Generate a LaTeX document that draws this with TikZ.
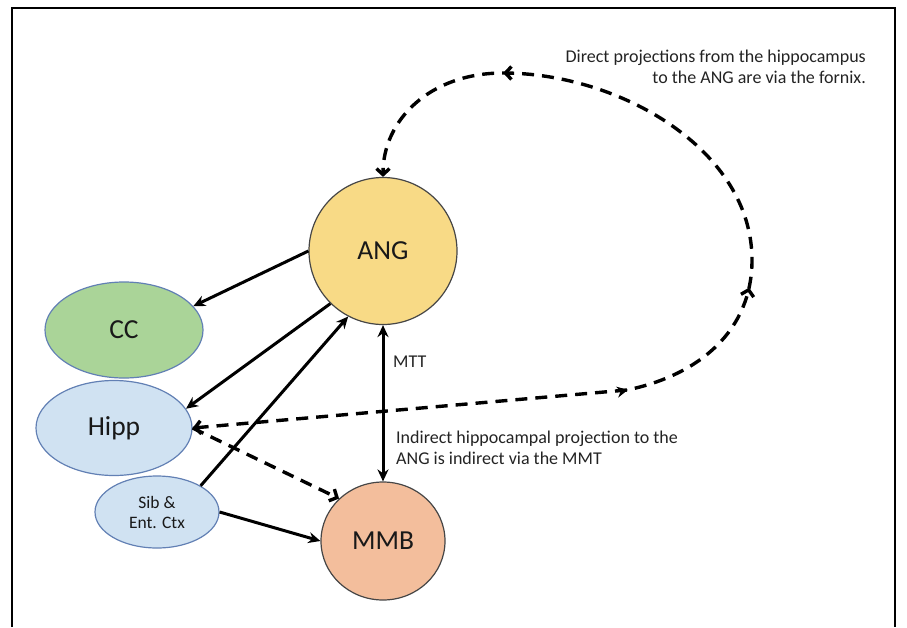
\documentclass[tikz,border=0pt]{standalone}
\usepackage{fontspec}
\setmainfont{Carlito}
\usepackage{xcolor}
\usepackage{tikz}
\usetikzlibrary{shapes.geometric,arrows.meta,decorations.markings}

\definecolor{angfill}{RGB}{248,218,134}
\definecolor{ccfill}{RGB}{170,212,152}
\definecolor{hippfill}{RGB}{208,226,242}
\definecolor{mmbfill}{RGB}{243,190,156}
\definecolor{bluerim}{RGB}{98,128,180}
\definecolor{darkrim}{RGB}{70,70,70}
\definecolor{notegray}{RGB}{35,35,35}

\begin{document}
\begin{tikzpicture}[x=1pt, y=-1pt,
    region/.style={ellipse, line width=1.2pt, inner sep=0pt, text=black!90,
        font=\fontsize{27.5}{32}\selectfont},
    note/.style={inner sep=0pt, text=notegray, font=\fontsize{18}{21}\selectfont},
    link/.style={line width=3pt, -{Stealth[length=12pt,width=11pt]}},
    fiber/.style={line width=3.4pt, dash pattern=on 12pt off 8pt,
        {Straight Barb[length=6pt,width=13pt]}-{Straight Barb[length=6pt,width=13pt]}}]
    \useasboundingbox (0,0) rectangle (907,627);
    % frame
    \draw[line width=1.2pt] (12,627) -- (12,8) -- (895,8) -- (895,627);

    % regions
    \node[region, fill=angfill, draw=darkrim, minimum width=148pt, minimum height=147pt] (ANG) at (383,251) {ANG};
    \node[region, fill=ccfill, draw=bluerim, minimum width=158pt, minimum height=96pt] (CC) at (124,330) {CC};
    \node[region, fill=hippfill, draw=bluerim, minimum width=156pt, minimum height=95pt] (Hipp) at (114,428) {Hipp};
    \node[region, fill=hippfill, draw=bluerim, minimum width=124pt, minimum height=72pt,
        align=center, font=\fontsize{17.5}{20}\selectfont] (Sib) at (157,512) {Sib \&\\Ent. Ctx};
    \node[region, fill=mmbfill, draw=darkrim, minimum width=124pt, minimum height=118pt] (MMB) at (383,541) {MMB};

    % solid projections
    \draw[link] (ANG.west) -- (CC.19);
    \draw[link] (ANG.225) -- (Hipp.15);
    \draw[link] (Sib.31) -- (ANG.242);
    \draw[link] (Sib.east) -- (MMB.west);
    \draw[link, {Stealth[length=12pt,width=11pt]}-{Stealth[length=12pt,width=11pt]}] (ANG.south) -- (MMB.north);
    \node[note, anchor=west] (MTT) at (393,362) {MTT};

    % dashed projections
    \draw[fiber, -{Straight Barb[length=6pt,width=13pt]}] (Hipp.east) -- (MMB.136);
    \coordinate (fx1) at (627,390);
    \coordinate (fx2) at (752,260);
    \coordinate (fx3) at (503,73);
    \draw[fiber, postaction={decorate}, decoration={markings,
            mark=at position 437pt with {\arrow{Stealth[length=11pt,width=11pt]}},
            mark=at position 605pt with {\arrow{Straight Barb[length=6pt,width=13pt,line width=3.4pt]}},
            mark=at position 975pt with {\arrow{Straight Barb[length=6pt,width=13pt,line width=3.4pt]}}}]
        (Hipp.east) -- (fx1) .. controls (700,375) and (752,330) .. (fx2)
        .. controls (752,150) and (620,73) .. (fx3)
        .. controls (430,73) and (383,120) .. (ANG.north);

    % notes
    \node[note, anchor=north east, align=right] (fornixnote) at (866,50)
        {Direct projections from the hippocampus\\to the ANG are via the fornix.};
    \node[note, anchor=north west, align=left] (mmtnote) at (396,431)
        {Indirect hippocampal projection to the\\ANG is indirect via the MMT};
\end{tikzpicture}
\end{document}
